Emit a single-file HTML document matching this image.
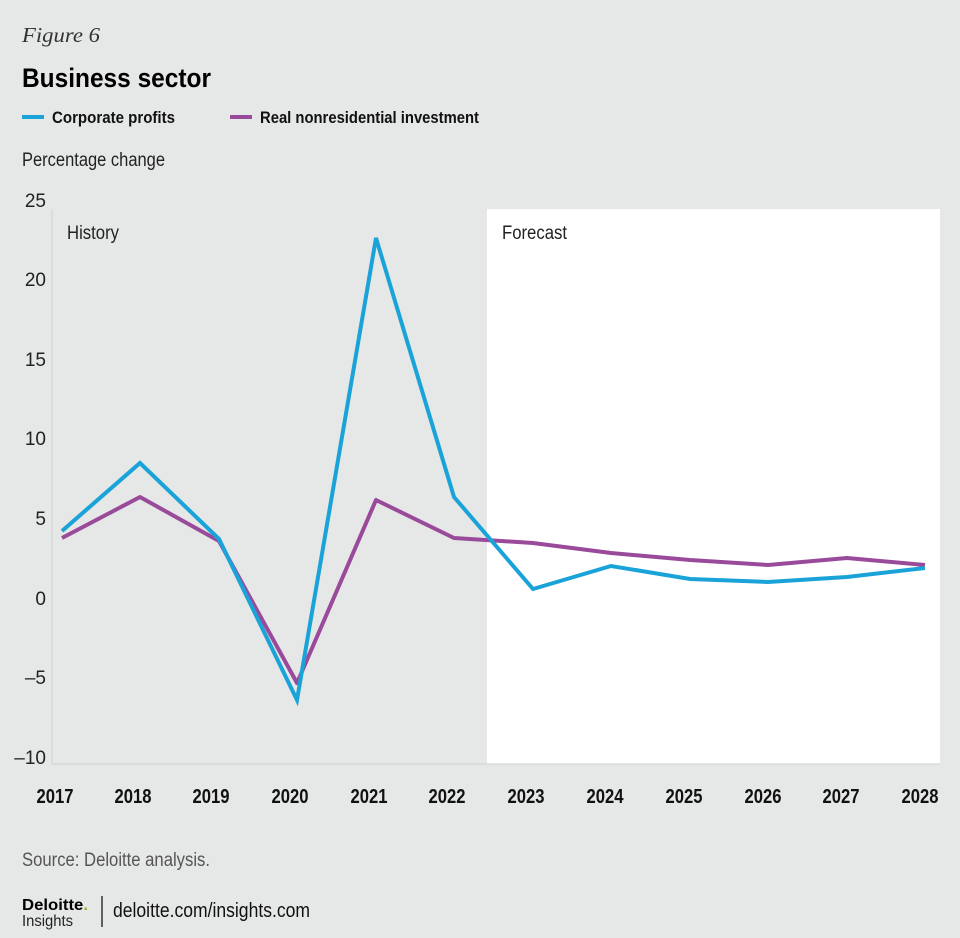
<!DOCTYPE html>
<html><head><meta charset="utf-8"><style>
html,body{margin:0;padding:0;background:#e6e8e7;}
svg{display:block;font-family:"Liberation Sans",sans-serif;}
</style></head><body>
<svg width="960" height="938" viewBox="0 0 960 938" xmlns="http://www.w3.org/2000/svg">
<rect width="960" height="938" fill="#e6e8e7"/>
<text x="22" y="42" font-family="Liberation Serif,serif" font-style="italic" font-size="21" fill="#333" textLength="78" lengthAdjust="spacingAndGlyphs">Figure 6</text>
<text x="22" y="87" font-size="27" font-weight="bold" fill="#000" textLength="189" lengthAdjust="spacingAndGlyphs">Business sector</text>
<line x1="22" y1="117" x2="44" y2="117" stroke="#1aa3d9" stroke-width="4"/>
<text x="52" y="123" font-size="17" font-weight="bold" fill="#111" textLength="123" lengthAdjust="spacingAndGlyphs">Corporate profits</text>
<line x1="230" y1="117" x2="252" y2="117" stroke="#9a4a9a" stroke-width="4"/>
<text x="260" y="123" font-size="17" font-weight="bold" fill="#111" textLength="219" lengthAdjust="spacingAndGlyphs">Real nonresidential investment</text>
<text x="22" y="166" font-size="19" fill="#222" textLength="143" lengthAdjust="spacingAndGlyphs">Percentage change</text>
<rect x="487" y="209" width="453" height="555" fill="#fff"/>
<line x1="52" y1="209" x2="52" y2="764" stroke="#cfd2d1" stroke-width="1"/>
<line x1="52" y1="764" x2="940" y2="764" stroke="#cfd2d1" stroke-width="1"/>
<g font-size="19" fill="#222" text-anchor="end">
<text x="46" y="207">25</text><text x="46" y="286">20</text><text x="46" y="366">15</text>
<text x="46" y="445">10</text><text x="46" y="525">5</text><text x="46" y="605">0</text>
<text x="46" y="684">–5</text><text x="46" y="764">–10</text>
</g>
<text x="67" y="239" font-size="19" fill="#222" textLength="52" lengthAdjust="spacingAndGlyphs">History</text>
<text x="502" y="239" font-size="19" fill="#222" textLength="65" lengthAdjust="spacingAndGlyphs">Forecast</text>
<g font-size="20" font-weight="bold" fill="#111" text-anchor="middle" transform="translate(0,803)">
<text x="55" textLength="37" lengthAdjust="spacingAndGlyphs">2017</text><text x="133" textLength="37" lengthAdjust="spacingAndGlyphs">2018</text><text x="211" textLength="37" lengthAdjust="spacingAndGlyphs">2019</text>
<text x="290" textLength="37" lengthAdjust="spacingAndGlyphs">2020</text><text x="369" textLength="37" lengthAdjust="spacingAndGlyphs">2021</text><text x="447" textLength="37" lengthAdjust="spacingAndGlyphs">2022</text>
<text x="526" textLength="37" lengthAdjust="spacingAndGlyphs">2023</text><text x="605" textLength="37" lengthAdjust="spacingAndGlyphs">2024</text><text x="684" textLength="37" lengthAdjust="spacingAndGlyphs">2025</text>
<text x="763" textLength="37" lengthAdjust="spacingAndGlyphs">2026</text><text x="841" textLength="37" lengthAdjust="spacingAndGlyphs">2027</text><text x="920" textLength="37" lengthAdjust="spacingAndGlyphs">2028</text>
</g>
<polyline fill="none" stroke="#9a4a9a" stroke-width="4" stroke-linejoin="round" points="62,538 140,497 219,541 297,683 376,500 454,538 533,543 611,553 690,560 768,565 847,558 925,565"/>
<polyline fill="none" stroke="#1aa3d9" stroke-width="4" stroke-linejoin="miter" points="62,531 140,463 219,539 297,700 376,238 454,497 533,589 611,566 690,579 768,582 847,577 925,568"/>
<text x="22" y="866" font-size="19" fill="#555" textLength="188" lengthAdjust="spacingAndGlyphs">Source: Deloitte analysis.</text>
<text x="22" y="910" font-size="16" font-weight="bold" fill="#000" textLength="66" lengthAdjust="spacingAndGlyphs">Deloitte<tspan fill="#86bc25">.</tspan></text>
<text x="22" y="926" font-size="16" fill="#222" textLength="51" lengthAdjust="spacingAndGlyphs">Insights</text>
<line x1="102" y1="896" x2="102" y2="927" stroke="#333" stroke-width="1.5"/>
<text x="113" y="917" font-size="20" fill="#111" textLength="197" lengthAdjust="spacingAndGlyphs">deloitte.com/insights.com</text>
</svg>
</body></html>
